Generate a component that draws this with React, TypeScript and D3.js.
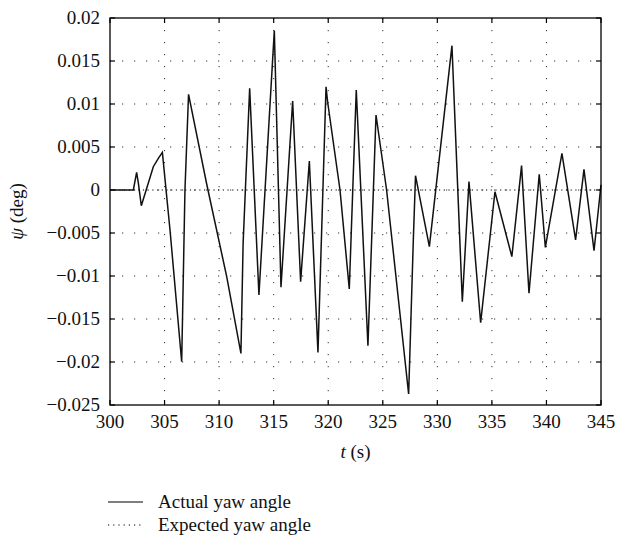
import React from "react";
import * as d3 from "d3";

const timeValues = [300, 302.14, 302.44, 302.6, 302.87, 303.97, 304.43, 304.8, 305.5, 306.57, 306.87, 307.2, 308.86, 310.7, 312.0, 312.2, 312.8, 313.65, 315.06, 315.67, 316.74, 317.47, 318.27, 319.06, 319.8, 319.95, 321.08, 321.93, 322.57, 323.64, 324.38, 325.35, 327.37, 327.8, 328.0, 329.27, 331.34, 332.29, 332.9, 333.97, 335.28, 336.83, 337.72, 338.4, 339.34, 339.9, 341.42, 342.67, 343.44, 344.36, 345];
const actualYaw = [0, 0, 0.00206, 0.0008, -0.00183, 0.00271, 0.00368, 0.00438, -0.00465, -0.01997, 0, 0.01113, 0.0007, -0.0101, -0.019, -0.0062, 0.01182, -0.0122, 0.01853, -0.01131, 0.01035, -0.01066, 0.00337, -0.01888, 0.012, 0.0102, 0, -0.01151, 0.01163, -0.0181, 0.00872, 0, -0.02372, -0.0058, 0.00166, -0.00659, 0.01678, -0.01299, 0.00097, -0.01543, -0.0002, -0.00775, 0.00283, -0.01201, 0.00183, -0.00667, 0.00427, -0.00581, 0.0024, -0.00706, 0.0006];
const expectedTimes = [300, 345];
const expectedYaw = [0, 0];
const xTicks = [300, 305, 310, 315, 320, 325, 330, 335, 340, 345];
const yTicks = [0.02, 0.015, 0.01, 0.005, 0, -0.005, -0.01, -0.015, -0.02, -0.025];
const yTickLabels = ["0.02", "0.015", "0.01", "0.005", "0", "\u22120.005", "\u22120.01", "\u22120.015", "\u22120.02", "\u22120.025"];
const legendLabels = ["Actual yaw angle", "Expected yaw angle"];

const W = 617;
const H = 538;
const L = 110, R = 601, T = 18, B = 405;
const FONT = "Liberation Serif, Times New Roman, DejaVu Serif, serif";

export default function App() {
  const x = d3.scaleLinear().domain([300, 345]).range([L, R]);
  const y = d3.scaleLinear().domain([-0.025, 0.02]).range([B, T]);
  const actual = timeValues.map((t, i) => [t, actualYaw[i]] as [number, number]);
  const expected = expectedTimes.map((t, i) => [t, expectedYaw[i]] as [number, number]);
  const line = d3.line<[number, number]>().x(d => x(d[0])).y(d => y(d[1]));
  const tl = 5;
  const ts = { fontFamily: FONT, fontSize: "19px" } as React.CSSProperties;
  return (
    <svg width={W} height={H} style={{ position: "absolute", left: 0, top: 0, background: "#fff" }}>
      <rect x={0} y={0} width={W} height={H} fill="#fff" />
      {xTicks.slice(1, -1).map(t => (
        <line key={"gx" + t} x1={x(t)} x2={x(t)} y1={T} y2={B} stroke="#333" strokeWidth={1} strokeDasharray="1.2 10.8" />
      ))}
      {yTicks.slice(1, -1).map(v => (
        <line key={"gy" + v} x1={L} x2={R} y1={y(v)} y2={y(v)} stroke="#333" strokeWidth={1} strokeDasharray="1.2 10.8" />
      ))}
      <path d={line(expected) || ""} fill="none" stroke="#000" strokeWidth={1} strokeDasharray="1.2 3.5" />
      <path d={line(actual) || ""} fill="none" stroke="#111" strokeWidth={1.5} strokeLinejoin="miter" />
      <rect x={L} y={T} width={R - L} height={B - T} fill="none" stroke="#000" strokeWidth={1.3} />
      {xTicks.map(t => (
        <g key={"tx" + t}>
          <line x1={x(t)} x2={x(t)} y1={B} y2={B - tl} stroke="#000" strokeWidth={1.2} />
          <line x1={x(t)} x2={x(t)} y1={T} y2={T + tl} stroke="#000" strokeWidth={1.2} />
          <text x={x(t)} y={428} textAnchor="middle" style={ts} fill="#111">{t}</text>
        </g>
      ))}
      {yTicks.map((v, i) => (
        <g key={"ty" + v}>
          <line x1={L} x2={L + tl} y1={y(v)} y2={y(v)} stroke="#000" strokeWidth={1.2} />
          <line x1={R} x2={R - tl} y1={y(v)} y2={y(v)} stroke="#000" strokeWidth={1.2} />
          <text x={100} y={y(v) + 6} textAnchor="end" style={ts} fill="#111">{yTickLabels[i]}</text>
        </g>
      ))}
      <text x={(L + R) / 2} y={458} textAnchor="middle" style={ts} fill="#111">
        <tspan fontStyle="italic">t</tspan> (s)
      </text>
      <text transform={`translate(23, ${(T + B) / 2}) rotate(-90)`} textAnchor="middle" style={ts} fill="#111">
        <tspan fontStyle="italic">ψ</tspan> (deg)
      </text>
      <line x1={108} x2={143} y1={502} y2={502} stroke="#000" strokeWidth={1.2} />
      <text x={158} y={508} style={ts} fill="#111">{legendLabels[0]}</text>
      <line x1={108} x2={143} y1={525} y2={525} stroke="#000" strokeWidth={1.2} strokeDasharray="1.2 4" />
      <text x={158} y={531} style={ts} fill="#111">{legendLabels[1]}</text>
    </svg>
  );
}
